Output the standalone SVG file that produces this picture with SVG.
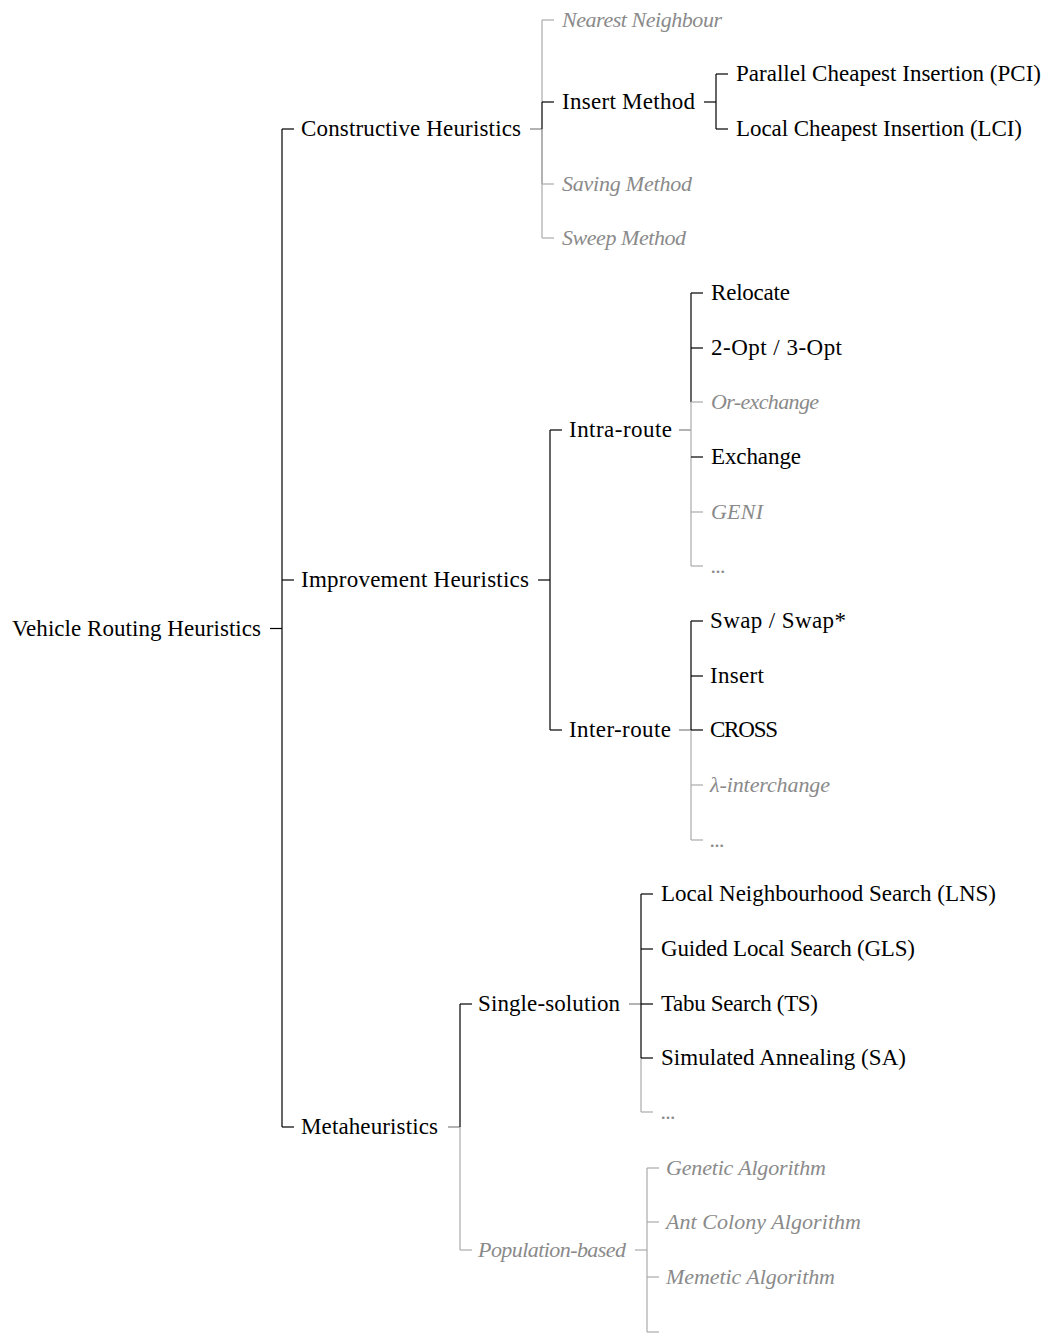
<svg xmlns="http://www.w3.org/2000/svg" width="1048" height="1336" viewBox="0 0 1048 1336">
<style>
text{font-family:"Liberation Serif","DejaVu Serif",serif;font-size:23px}
.t{fill:#000}
.g{fill:#8a8a8a;font-style:italic;font-size:22px}
line{stroke-width:1.2;fill:none}
.k{stroke:#000}
.l{stroke:#aaa}
.m{stroke:#808080}
</style>
<rect width="1048" height="1336" fill="#fff"/>
<g id="connectors">
<line class="k" x1="270" y1="628.5" x2="282" y2="628.5"/>
<line class="k" x1="282" y1="129" x2="282" y2="1127"/>
<line class="k" x1="282" y1="129" x2="294" y2="129"/>
<line class="k" x1="282" y1="580" x2="294" y2="580"/>
<line class="k" x1="282" y1="1127" x2="294" y2="1127"/>
<line class="m" x1="530" y1="129" x2="542" y2="129"/>
<line class="l" x1="542" y1="20" x2="542" y2="102"/>
<line class="k" x1="542" y1="102" x2="542" y2="129"/>
<line class="m" x1="542" y1="129" x2="542" y2="184"/>
<line class="l" x1="542" y1="184" x2="542" y2="238"/>
<line class="l" x1="542" y1="20" x2="554" y2="20"/>
<line class="k" x1="542" y1="102" x2="554" y2="102"/>
<line class="l" x1="542" y1="184" x2="554" y2="184"/>
<line class="l" x1="542" y1="238" x2="554" y2="238"/>
<line class="k" x1="704" y1="102" x2="716" y2="102"/>
<line class="k" x1="716" y1="74" x2="716" y2="129"/>
<line class="k" x1="716" y1="74" x2="728" y2="74"/>
<line class="k" x1="716" y1="129" x2="728" y2="129"/>
<line class="k" x1="538" y1="580" x2="550" y2="580"/>
<line class="k" x1="550" y1="430" x2="550" y2="730"/>
<line class="k" x1="550" y1="430" x2="562" y2="430"/>
<line class="k" x1="550" y1="730" x2="562" y2="730"/>
<line class="m" x1="679" y1="430" x2="691" y2="430"/>
<line class="k" x1="691" y1="293" x2="691" y2="402"/>
<line class="l" x1="691" y1="402" x2="691" y2="566"/>
<line class="k" x1="691" y1="293" x2="703" y2="293"/>
<line class="k" x1="691" y1="348" x2="703" y2="348"/>
<line class="l" x1="691" y1="402" x2="703" y2="402"/>
<line class="k" x1="691" y1="457" x2="703" y2="457"/>
<line class="l" x1="691" y1="512" x2="703" y2="512"/>
<line class="l" x1="691" y1="566" x2="703" y2="566"/>
<line class="m" x1="679" y1="730" x2="691" y2="730"/>
<line class="k" x1="691" y1="621" x2="691" y2="730"/>
<line class="l" x1="691" y1="730" x2="691" y2="840"/>
<line class="k" x1="691" y1="621" x2="703" y2="621"/>
<line class="k" x1="691" y1="676" x2="703" y2="676"/>
<line class="k" x1="691" y1="730" x2="703" y2="730"/>
<line class="l" x1="691" y1="785" x2="703" y2="785"/>
<line class="l" x1="691" y1="840" x2="703" y2="840"/>
<line class="m" x1="448" y1="1127" x2="460" y2="1127"/>
<line class="k" x1="460" y1="1004" x2="460" y2="1127"/>
<line class="l" x1="460" y1="1127" x2="460" y2="1250"/>
<line class="k" x1="460" y1="1004" x2="472" y2="1004"/>
<line class="l" x1="460" y1="1250" x2="472" y2="1250"/>
<line class="m" x1="629" y1="1004" x2="641" y2="1004"/>
<line class="k" x1="641" y1="894" x2="641" y2="1058"/>
<line class="l" x1="641" y1="1058" x2="641" y2="1112"/>
<line class="k" x1="641" y1="894" x2="653" y2="894"/>
<line class="k" x1="641" y1="949" x2="653" y2="949"/>
<line class="k" x1="641" y1="1004" x2="653" y2="1004"/>
<line class="k" x1="641" y1="1058" x2="653" y2="1058"/>
<line class="l" x1="641" y1="1112" x2="653" y2="1112"/>
<line class="l" x1="635" y1="1250" x2="647" y2="1250"/>
<line class="l" x1="647" y1="1168" x2="647" y2="1332"/>
<line class="l" x1="647" y1="1168" x2="659" y2="1168"/>
<line class="l" x1="647" y1="1222" x2="659" y2="1222"/>
<line class="l" x1="647" y1="1277" x2="659" y2="1277"/>
<line class="l" x1="647" y1="1332" x2="659" y2="1332"/>
</g>
<g id="root"><text class="t" x="12" y="636" textLength="249">Vehicle Routing Heuristics</text></g>
<g id="constructive"><text class="t" x="301" y="136" textLength="220">Constructive Heuristics</text></g>
<g id="nearest"><text class="g" x="562" y="27" textLength="160">Nearest Neighbour</text></g>
<g id="insert-method"><text class="t" x="562" y="109" textLength="133">Insert Method</text></g>
<g id="pci"><text class="t" x="736" y="81" textLength="305">Parallel Cheapest Insertion (PCI)</text></g>
<g id="lci"><text class="t" x="736" y="136" textLength="286">Local Cheapest Insertion (LCI)</text></g>
<g id="saving"><text class="g" x="562" y="191" textLength="130">Saving Method</text></g>
<g id="sweep"><text class="g" x="562" y="245" textLength="124">Sweep Method</text></g>
<g id="improvement"><text class="t" x="301" y="587" textLength="228">Improvement Heuristics</text></g>
<g id="intra"><text class="t" x="569" y="437" textLength="103">Intra-route</text></g>
<g id="relocate"><text class="t" x="711" y="300" textLength="79">Relocate</text></g>
<g id="opt"><text class="t" x="711" y="355" textLength="131">2-Opt / 3-Opt</text></g>
<g id="or-exchange"><text class="g" x="711" y="409" textLength="108">Or-exchange</text></g>
<g id="exchange"><text class="t" x="711" y="464" textLength="90">Exchange</text></g>
<g id="geni"><text class="g" x="711" y="519" textLength="52">GENI</text></g>
<g id="intra-more"><text class="g" x="711" y="573" textLength="15">...</text></g>
<g id="inter"><text class="t" x="569" y="737" textLength="102">Inter-route</text></g>
<g id="swap"><text class="t" x="710" y="628" textLength="136">Swap / Swap*</text></g>
<g id="insert"><text class="t" x="710" y="683" textLength="54">Insert</text></g>
<g id="cross"><text class="t" x="710" y="737" textLength="68">CROSS</text></g>
<g id="lambda"><text class="g" x="710" y="792" textLength="120">λ-interchange</text></g>
<g id="inter-more"><text class="g" x="710" y="847" textLength="15">...</text></g>
<g id="meta"><text class="t" x="301" y="1134" textLength="137">Metaheuristics</text></g>
<g id="single"><text class="t" x="478" y="1011" textLength="142">Single-solution</text></g>
<g id="lns"><text class="t" x="661" y="901" textLength="335">Local Neighbourhood Search (LNS)</text></g>
<g id="gls"><text class="t" x="661" y="956" textLength="254">Guided Local Search (GLS)</text></g>
<g id="ts"><text class="t" x="661" y="1011" textLength="157">Tabu Search (TS)</text></g>
<g id="sa"><text class="t" x="661" y="1065" textLength="245">Simulated Annealing (SA)</text></g>
<g id="single-more"><text class="g" x="661" y="1119" textLength="15">...</text></g>
<g id="population"><text class="g" x="478" y="1257" textLength="148">Population-based</text></g>
<g id="ga"><text class="g" x="666" y="1175" textLength="160">Genetic Algorithm</text></g>
<g id="aco"><text class="g" x="666" y="1229" textLength="195">Ant Colony Algorithm</text></g>
<g id="ma"><text class="g" x="666" y="1284" textLength="169">Memetic Algorithm</text></g>
</svg>
